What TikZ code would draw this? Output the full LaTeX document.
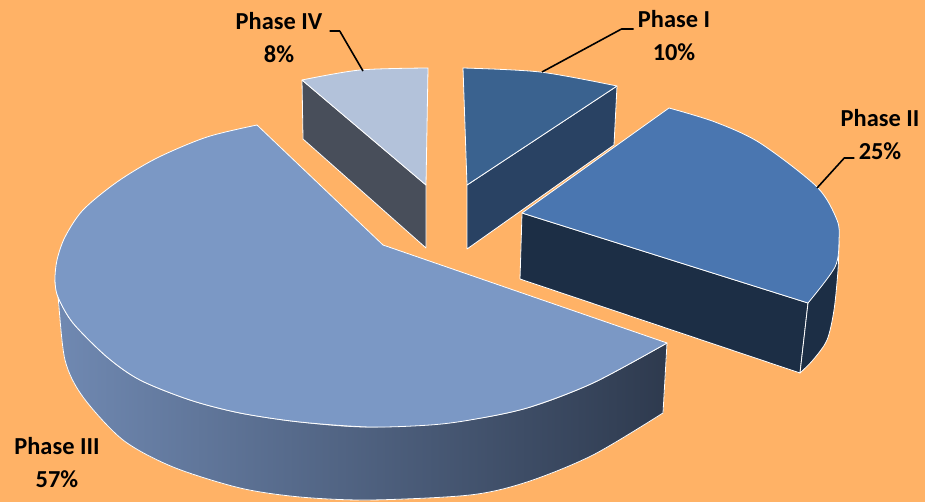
\documentclass[tikz,border=0pt]{standalone}
\usepackage{fontspec}
\setmainfont{Carlito}

\definecolor{bgorange}{RGB}{255,178,102}
\definecolor{topI}{RGB}{58,98,143}
\definecolor{sideI}{RGB}{41,66,99}
\definecolor{topII}{RGB}{74,118,176}
\definecolor{sideII}{RGB}{28,46,69}
\definecolor{topIII}{RGB}{123,152,197}
\definecolor{sideIIIleft}{RGB}{112,137,178}
\definecolor{sideIIIright}{RGB}{46,58,78}
\definecolor{topIV}{RGB}{179,194,218}
\definecolor{sideIV}{RGB}{72,78,90}

\begin{document}
\begin{tikzpicture}[x=0.5pt, y=-0.5pt, line join=round]
            \tikzset{face/.style = {draw=white, line width=0.4pt}}
            \tikzset{phaselabel/.style = {align=center, inner sep=0pt, font=\fontsize{12.2}{16.5}\selectfont\bfseries}}
            \tikzset{leader/.style = {draw=black, line width=0.8pt}}

            \fill[bgorange] (0,0) rectangle (925,502);
            \useasboundingbox (0,0) rectangle (925,502);

            % Phase IV
            \fill[face, fill=sideIV] (302,80) -- (426,185) -- (426,248) -- (303,139) -- cycle;
            \fill[face, fill=topIV] (302,80) -- plot[smooth] coordinates {(302,80) (360,70) (428,68)} -- (426,185) -- cycle;

            % Phase I
            \fill[face, fill=sideI] (467,185) -- (617,86) -- (614,145) -- (467,249) -- cycle;
            \fill[face, fill=topI] (467,185) -- (463,68) -- plot[smooth] coordinates {(463,68) (540,72) (617,86)} -- cycle;

            % Phase II
            \fill[face, fill=sideII] (522,213) -- (808,303) -- (800,373) -- (520,279) -- cycle;
            \fill[face, fill=sideII] (808,303) -- (800,373) -- plot[smooth] coordinates {(800,373) (813,360) (827,340) (834,310) (838,270) (839,240)} -- cycle;
            \fill[face, fill=topII] (522,213) -- (669,108) -- plot[smooth] coordinates {(669,108) (715,122) (760,143) (817,187) (837,220) (839,240) (835,267) (808,303)} -- cycle;

            % Phase III
            \fill[face, left color=sideIIIleft, right color=sideIIIright] (55,280) -- plot[smooth] coordinates {(55,280) (58,297) (65,360) (83,397) (123,440) (173,467) (240,488) (300,497) (370,500) (470,495) (527,482) (593,455) (663,413)} -- (667,343) -- plot[smooth] coordinates {(667,343) (593,383) (527,408) (460,421) (370,427) (300,422) (240,413) (190,400) (140,380) (107,357) (73,323) (58,297) (55,280)} -- cycle;
            \fill[face, fill=topIII] (383,245) -- (257,125) -- plot[smooth] coordinates {(257,125) (207,137) (157,158) (117,182) (83,210) (65,237) (57,260) (55,280) (58,297) (73,323) (107,357) (140,380) (190,400) (240,413) (300,422) (370,427) (430,425) (470,420) (527,408) (593,383) (667,343)} -- cycle;

            % labels
            \node[phaselabel] (lblI) at (674,36) {Phase I\\10\%};
            \node[phaselabel] (lblII) at (880,135) {Phase II\\25\%};
            \node[phaselabel] (lblIII) at (57,463) {Phase III\\57\%};
            \node[phaselabel] (lblIV) at (279,38) {Phase IV\\8\%};

            \coordinate (tipI) at (542,72);
            \coordinate (tipII) at (817,188);
            \coordinate (tipIV) at (363,71);

            \draw[leader] (lblI.west) ++(-4,-7) -- ++(-12,0) -- (tipI);
            \draw[leader] (lblII.west) ++(14,23) -- ++(-10,0) -- (tipII);
            \draw[leader] (lblIV.east) ++(7,-7) -- ++(10,0) -- (tipIV);
        \end{tikzpicture}
\end{document}
